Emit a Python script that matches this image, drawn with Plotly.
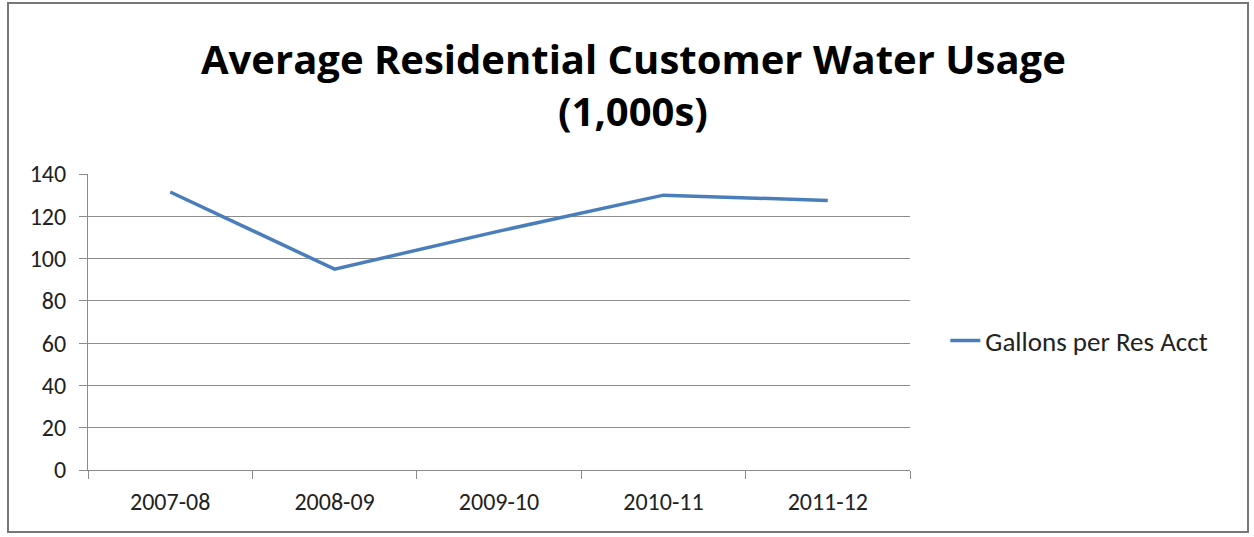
import plotly.graph_objects as go

# Fiscal years and average residential usage (thousands of gallons)
years = ["2007-08", "2008-09", "2009-10", "2010-11", "2011-12"]
gallons = [131.5, 95, 113, 130, 127.5]
y_ticks = [0, 20, 40, 60, 80, 100, 120, 140]

title_lines = ["Average Residential Customer Water Usage", "(1,000s)"]

FONT = "Calibri, Carlito, Lato, sans-serif"
TITLE_FONT = "'Open Sans', sans-serif"
GRID = "#8c8c8c"

fig = go.Figure()
fig.add_trace(go.Scatter(
    x=years, y=gallons, mode="lines", name="Gallons per Res Acct",
    line=dict(color="#4a7ebb", width=3.5),
))

# Two-line bold title, each line placed separately (paper coords)
for text, ypos in zip(title_lines, [1.0 + 116 / 296, 1.0 + 64 / 296]):
    fig.add_annotation(
        text=f"<b>{text}</b>", xref="paper", yref="paper",
        x=545 / 822, y=ypos, xanchor="center", yanchor="middle",
        showarrow=False, font=dict(family=TITLE_FONT, size=40, color="black"),
    )

fig.update_layout(
    width=1254, height=537,
    margin=dict(l=88, r=344, t=174, b=67),
    paper_bgcolor="white", plot_bgcolor="white",
    font=dict(family=FONT, size=24, color="#222"),
    showlegend=True,
    legend=dict(x=1.043, y=0.436, xanchor="left", yanchor="middle",
                font=dict(family=FONT, size=27, color="#222"),
                itemwidth=30, bgcolor="rgba(0,0,0,0)"),
    xaxis=dict(
        type="category", range=[-0.5, 4.5], automargin=False,
        showgrid=False, showline=True, linecolor=GRID, linewidth=1,
        ticks="outside", tickson="boundaries", ticklen=8, tickcolor=GRID,
        tickfont=dict(size=24), ticklabelstandoff=10,
    ),
    yaxis=dict(
        range=[0, 140], tickvals=y_ticks, automargin=False,
        showgrid=True, gridcolor=GRID, gridwidth=1,
        showline=True, linecolor=GRID, linewidth=1,
        ticks="outside", ticklen=8, tickcolor=GRID,
        zeroline=False, tickfont=dict(size=24), ticklabelstandoff=8,
    ),
    shapes=[dict(type="rect", xref="paper", yref="paper",
                 x0=-80 / 822, x1=1.0 + 338 / 822,
                 y0=-62 / 296, y1=1.0 + 171 / 296,
                 line=dict(color="#777", width=2))],
)

fig.write_html("out.html")
